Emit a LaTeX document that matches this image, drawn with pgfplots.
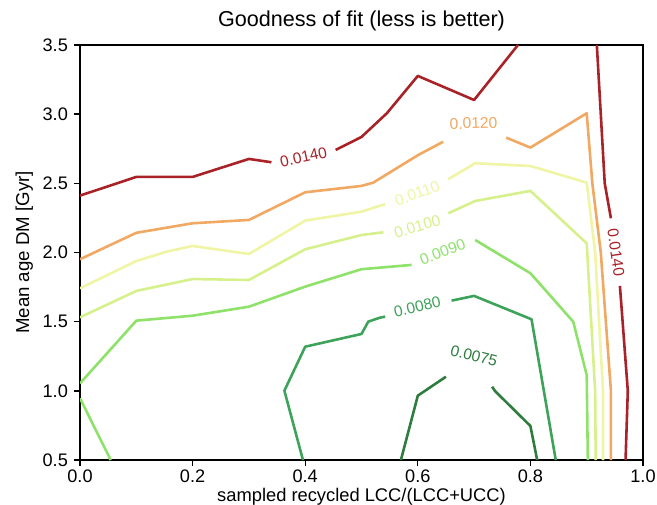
\documentclass[border=0pt]{standalone}
\usepackage{fontspec}
\setmainfont{Liberation Sans}
\usepackage{pgfplots}
\pgfplotsset{compat=1.18}
\definecolor{c075}{HTML}{2E7D3E}
\definecolor{c080}{HTML}{3EA35A}
\definecolor{c090}{HTML}{8EE26A}
\definecolor{c100}{HTML}{D6F08C}
\definecolor{c110}{HTML}{EFF5A4}
\definecolor{c120}{HTML}{F0A862}
\definecolor{c140}{HTML}{A82228}
\begin{document}
\begin{tikzpicture}
\path[use as bounding box] (-46.3pt,-25.5pt) rectangle (333.9pt,266.2pt);
\begin{axis}[
  at={(0,0)}, anchor=south west,
  width=325.8pt, height=240.2pt, scale only axis,
  xmin=0, xmax=1, ymin=0.5, ymax=3.5,
  xtick={0,0.2,0.4,0.6,0.8,1.0},
  ytick={0.5,1.0,1.5,2.0,2.5,3.0,3.5},
  xtick pos=left, ytick pos=left,
  tick align=outside,
  major tick length=3.5pt,
  tick style={black, line width=0.8pt},
  axis line style={line width=0.8pt},
  /pgf/number format/assume math mode=true,
  xticklabel style={/pgf/number format/.cd, fixed, fixed zerofill, precision=1, /tikz/.cd, yshift=-1.2pt, inner sep=1pt},
  yticklabel style={/pgf/number format/.cd, fixed, fixed zerofill, precision=1},
  tick label style={font=\fontsize{10.5}{12}\selectfont},
  title={Goodness of fit (less is better)},
  title style={font=\fontsize{12.5}{15}\selectfont, at={(axis description cs:0.5,1.0192)}, anchor=base},
  xlabel={sampled recycled LCC/(LCC+UCC)},
  xlabel style={font=\fontsize{10.6}{12}\selectfont, at={(axis description cs:0.5,-0.099)}, anchor=base, inner sep=0pt},
  ylabel={Mean age DM [Gyr]},
  ylabel style={font=\fontsize{10.8}{12}\selectfont, at={(axis description cs:-0.0905,0.5)}, anchor=base},
  every axis plot/.append style={line width=1.5pt, no markers, line join=round},
]
% 0.0140
\addplot[c140] coordinates {(0,2.411) (0.1,2.546) (0.2,2.546) (0.3,2.676) (0.340,2.652)};
\addplot[c140] coordinates {(0.454,2.741) (0.5,2.835) (0.545,3.006) (0.6,3.276) (0.7,3.102) (0.778,3.5)};
\addplot[c140] coordinates {(0.918,3.5) (0.932,2.5) (0.943,2.247)};
\addplot[c140] coordinates {(0.959,1.758) (0.973,1.0) (0.969,0.5)};
% 0.0120
\addplot[c120] coordinates {(0,1.951) (0.1,2.142) (0.2,2.211) (0.3,2.235) (0.4,2.435) (0.5,2.481) (0.521,2.505) (0.601,2.705) (0.645,2.80)};
\addplot[c120] coordinates {(0.757,2.83) (0.8,2.758) (0.9,3.006) (0.91,2.5) (0.925,2.0) (0.943,1.0) (0.943,0.5)};
% 0.0110
\addplot[c110] coordinates {(0,1.741) (0.1,1.938) (0.154,2.006) (0.2,2.047) (0.3,1.989) (0.4,2.23) (0.5,2.295) (0.533,2.338) (0.542,2.348)};
\addplot[c110] coordinates {(0.654,2.529) (0.702,2.645) (0.8,2.625) (0.9,2.505) (0.915,2.0) (0.929,1.0) (0.929,0.5)};
% 0.0100
\addplot[c100] coordinates {(0,1.531) (0.1,1.722) (0.2,1.808) (0.3,1.801) (0.4,2.023) (0.5,2.126) (0.539,2.146)};
\addplot[c100] coordinates {(0.654,2.283) (0.702,2.372) (0.8,2.445) (0.9,2.066) (0.915,1.0) (0.916,0.5)};
% 0.0090
\addplot[c090] coordinates {(0,1.054) (0.1,1.507) (0.2,1.543) (0.3,1.608) (0.4,1.753) (0.5,1.879) (0.589,1.910)};
\addplot[c090] coordinates {(0.702,2.090) (0.8,1.85) (0.876,1.5) (0.9,1.114) (0.902,0.5)};
\addplot[c090] coordinates {(0,0.946) (0.0545,0.5)};
% 0.0080
\addplot[c080] coordinates {(0.396,0.5) (0.363,1.001) (0.4,1.319) (0.5,1.411) (0.512,1.5) (0.533,1.529) (0.542,1.536)};
\addplot[c080] coordinates {(0.660,1.652) (0.700,1.686) (0.802,1.517) (0.845,0.5)};
% 0.0075
\addplot[c075] coordinates {(0.570,0.5) (0.600,0.965) (0.650,1.102)};
\addplot[c075] coordinates {(0.732,1.030) (0.737,0.999) (0.8,0.746) (0.812,0.5)};
% labels
\node[text=c140, rotate=12, font=\fontsize{9}{10}\selectfont] at (axis cs:0.397,2.69) {0.0140};
\node[text=c140, rotate=-82, font=\fontsize{9}{10}\selectfont] at (axis cs:0.952,2.0) {0.0140};
\node[text=c120, rotate=2, font=\fontsize{9}{10}\selectfont] at (axis cs:0.699,2.934) {0.0120};
\node[text=c110, rotate=21, font=\fontsize{9}{10}\selectfont] at (axis cs:0.599,2.428) {0.0110};
\node[text=c100, rotate=17, font=\fontsize{9}{10}\selectfont] at (axis cs:0.599,2.187) {0.0100};
\node[text=c090, rotate=21, font=\fontsize{9}{10}\selectfont] at (axis cs:0.644,2.006) {0.0090};
\node[text=c080, rotate=13, font=\fontsize{9}{10}\selectfont] at (axis cs:0.599,1.608) {0.0080};
\node[text=c075, rotate=-14, font=\fontsize{9}{10}\selectfont] at (axis cs:0.700,1.252) {0.0075};
\end{axis}
\end{tikzpicture}
\end{document}
